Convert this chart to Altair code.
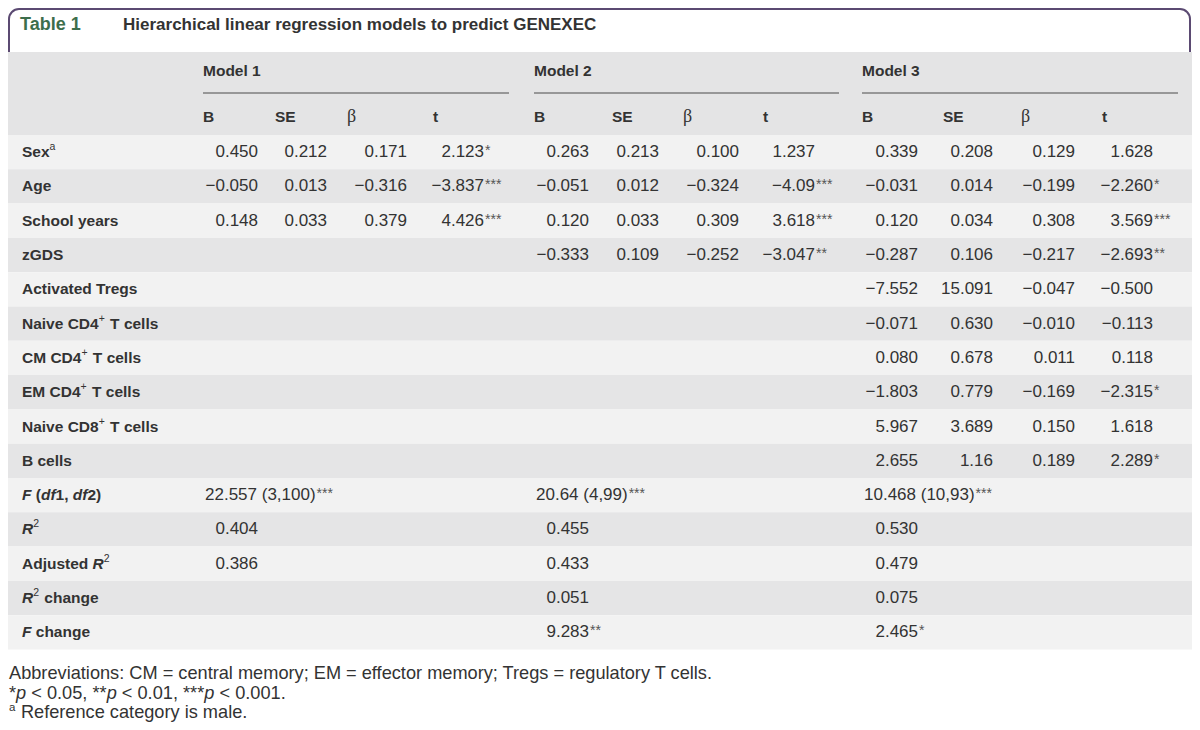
import altair as alt
import pandas as pd

# ------------------------------------------------------------------ data
table_label = "Table 1"
table_title = "Hierarchical linear regression models to predict GENEXEC"
model_names = ["Model 1", "Model 2", "Model 3"]
col_names = ["B", "SE", "β", "t"]

# row labels split into styled parts: b = bold, bi = bold italic, sup = superscript
row_label_parts = [
    [("Sex", "b"), ("a", "sup")],
    [("Age", "b")],
    [("School years", "b")],
    [("zGDS", "b")],
    [("Activated Tregs", "b")],
    [("Naive CD4", "b"), ("+", "sup"), (" T cells", "b")],
    [("CM CD4", "b"), ("+", "sup"), (" T cells", "b")],
    [("EM CD4", "b"), ("+", "sup"), (" T cells", "b")],
    [("Naive CD8", "b"), ("+", "sup"), (" T cells", "b")],
    [("B cells", "b")],
    [("F", "bi"), (" (", "b"), ("df", "bi"), ("1, ", "b"), ("df", "bi"), ("2)", "b")],
    [("R", "bi"), ("2", "sup")],
    [("Adjusted ", "b"), ("R", "bi"), ("2", "sup")],
    [("R", "bi"), ("2", "sup"), (" change", "b")],
    [("F", "bi"), (" change", "b")],
]

m1_B = ["0.450", "−0.050", "0.148"]
m1_SE = ["0.212", "0.013", "0.033"]
m1_beta = ["0.171", "−0.316", "0.379"]
m1_t = ["2.123*", "−3.837***", "4.426***"]

m2_B = ["0.263", "−0.051", "0.120", "−0.333"]
m2_SE = ["0.213", "0.012", "0.033", "0.109"]
m2_beta = ["0.100", "−0.324", "0.309", "−0.252"]
m2_t = ["1.237", "−4.09***", "3.618***", "−3.047**"]

m3_B = ["0.339", "−0.031", "0.120", "−0.287", "−7.552", "−0.071", "0.080", "−1.803", "5.967", "2.655"]
m3_SE = ["0.208", "0.014", "0.034", "0.106", "15.091", "0.630", "0.678", "0.779", "3.689", "1.16"]
m3_beta = ["0.129", "−0.199", "0.308", "−0.217", "−0.047", "−0.010", "0.011", "−0.169", "0.150", "0.189"]
m3_t = ["1.628", "−2.260*", "3.569***", "−2.693**", "−0.500", "−0.113", "0.118", "−2.315*", "1.618", "2.289*"]

f_stat = ["22.557 (3,100)***", "20.64 (4,99)***", "10.468 (10,93)***"]
r_squared = ["0.404", "0.455", "0.530"]
adj_r_squared = ["0.386", "0.433", "0.479"]
r_squared_change = ["", "0.051", "0.075"]
f_change = ["", "9.283**", "2.465*"]

footnote_1 = [("Abbreviations: CM = central memory; EM = effector memory; Tregs = regulatory T cells.", "r")]
footnote_2 = [("*", "r"), ("p", "i"), (" < 0.05, **", "r"), ("p", "i"), (" < 0.01, ***", "r"),
              ("p", "i"), (" < 0.001.", "r")]
footnote_3 = [("a", "sup"), (" Reference category is male.", "r")]

model_cols = [
    [m1_B, m1_SE, m1_beta, m1_t],
    [m2_B, m2_SE, m2_beta, m2_t],
    [m3_B, m3_SE, m3_beta, m3_t],
]
summary_rows = [f_stat, r_squared, adj_r_squared, r_squared_change, f_change]

# ------------------------------------------------------------------ layout
FONT = "Liberation Sans"
SERIF = "Liberation Serif"
INK = "#333333"
PURPLE = "#5b4a72"
GREEN = "#3d6e4c"
BAND_HEAD = "#e4e4e5"
BAND_LIGHT = "#f2f2f2"
BAND_DARK = "#e5e5e6"

W, H = 1184, 714            # visible drawing area (page margin is 8px)
OFF = 8                      # reference pixel of the drawing area's origin

LABEL_SIZE = 15.5
VALUE_SIZE = 17
FOOT_SIZE = 18.2
SUP_SIZE = 10.5

HEAD_TOP, HEAD_BOTTOM = 52, 135
ROW_H = 34.3
MODEL_Y, RULE_Y, COLHEAD_Y = 71, 93, 117
TITLE_Y = 25
FOOT_Y0, FOOT_DY = 674, 19.5
LABEL_X = 22

model_left = [203, 534, 862]
model_right = [509, 839, 1178]
colhead_off = [[0, 72, 144, 230], [0, 78, 149, 229], [0, 81, 159, 240]]
value_right = [[258, 327, 407, 484], [589, 659, 739, 815], [918, 993, 1075, 1153]]

REG = {' ': 278, '*': 389, 'p': 556, '<': 584, '=': 584, '.': 278, ',': 278, ';': 278, ':': 278,
       '(': 333, ')': 333, '−': 584, '+': 584, 'A': 667, 'C': 722, 'E': 667, 'M': 833, 'R': 722,
       'T': 611, 'a': 556, 'b': 556, 'c': 500, 'e': 556, 'f': 278, 'g': 556, 'i': 222, 'l': 222,
       'm': 833, 'n': 556, 'o': 556, 'r': 333, 's': 500, 't': 278, 'u': 556, 'v': 500, 'y': 500}
BOLD = {' ': 278, '(': 333, ')': 333, ',': 278, '+': 584, 'A': 722, 'B': 722, 'C': 722, 'D': 722,
        'E': 667, 'F': 611, 'G': 778, 'M': 833, 'N': 722, 'R': 722, 'S': 667, 'T': 611,
        'a': 556, 'c': 556, 'd': 611, 'e': 556, 'f': 333, 'g': 611, 'h': 611, 'i': 278, 'j': 278,
        'l': 278, 'n': 611, 'o': 611, 'r': 389, 's': 556, 't': 333, 'u': 611, 'v': 556, 'x': 556,
        'y': 556, 'z': 500}


def text_width(s, size, bold=False):
    table = BOLD if bold else REG
    return sum(table.get(ch, 556) for ch in s) * size / 1000.0


def row_center(i):
    return HEAD_BOTTOM + ROW_H * (i + 0.5)


# ------------------------------------------------------------------ tables
bands = [dict(x0=0, x1=1200, y0=HEAD_TOP, y1=HEAD_BOTTOM, fill=BAND_HEAD)]
for i in range(len(row_label_parts)):
    bands.append(dict(x0=0, x1=1200, y0=HEAD_BOTTOM + ROW_H * i, y1=HEAD_BOTTOM + ROW_H * (i + 1),
                      fill=BAND_LIGHT if i % 2 == 0 else BAND_DARK))
bands_df = pd.DataFrame(bands)

rules_df = pd.DataFrame([dict(x0=model_left[m], x1=model_right[m], y=RULE_Y) for m in range(3)])

styled = {"b": [], "bi": [], "sup": [], "r": [], "i": [], "rsup": []}


def lay_parts(parts, x, y, size, base_bold):
    for text, style in parts:
        if style == "sup":
            key = "sup" if base_bold else "rsup"
            styled[key].append(dict(x=x, y=y, text=text))
            x += text_width(text, SUP_SIZE, False) + 1
        else:
            bold = style in ("b", "bi")
            lead = len(text) - len(text.lstrip(" "))
            x += text_width(" " * lead, size, bold)       # svg drops leading blanks
            body = text.lstrip(" ")
            styled[style].append(dict(x=x, y=y, text=body))
            x += text_width(body, size, bold)
    return x


for i, parts in enumerate(row_label_parts):
    lay_parts(parts, LABEL_X, row_center(i), LABEL_SIZE, True)

foot_x = OFF + 1
for k, parts in enumerate([footnote_1, footnote_2, footnote_3]):
    lay_parts(parts, foot_x, FOOT_Y0 + FOOT_DY * k, FOOT_SIZE, False)

values_right, values_left, stars = [], [], []
for m in range(3):
    for c in range(4):
        for i, v in enumerate(model_cols[m][c]):
            num = v.rstrip("*")
            st = v[len(num):]
            xr = value_right[m][c]
            values_right.append(dict(x=xr, y=row_center(i), text=num))
            if st:
                stars.append(dict(x=xr + 1, y=row_center(i), text=st))
    for k, row in enumerate(summary_rows):
        v = row[m]
        if not v:
            continue
        num = v.rstrip("*")
        st = v[len(num):]
        i = 10 + k
        if k == 0:
            xl = model_left[m] + 2
            values_left.append(dict(x=xl, y=row_center(i), text=num))
            xr = xl + text_width(num, VALUE_SIZE)
        else:
            xr = value_right[m][0]
            values_right.append(dict(x=xr, y=row_center(i), text=num))
        if st:
            stars.append(dict(x=xr + 1, y=row_center(i), text=st))

model_heads = pd.DataFrame([dict(x=model_left[m], y=MODEL_Y, text=model_names[m]) for m in range(3)])
col_heads = pd.DataFrame([dict(x=model_left[m] + colhead_off[m][c], y=COLHEAD_Y, text=col_names[c])
                          for m in range(3) for c in range(4) if col_names[c] != "β"])
beta_heads = pd.DataFrame([dict(x=model_left[m] + colhead_off[m][c], y=COLHEAD_Y, text=col_names[c])
                           for m in range(3) for c in range(4) if col_names[c] == "β"])

# ------------------------------------------------------------------ chart
xs = alt.Scale(domain=[OFF, OFF + W], nice=False, zero=False)
ys = alt.Scale(domain=[OFF, OFF + H], nice=False, zero=False, reverse=True)


def X(f):
    return alt.X(f + ":Q", scale=xs, axis=None)


def Y(f):
    return alt.Y(f + ":Q", scale=ys, axis=None)


def texts(rows, align="left", size=VALUE_SIZE, weight="normal", style="normal", font=FONT,
          color=INK, dy=0):
    df = pd.DataFrame(rows) if not isinstance(rows, pd.DataFrame) else rows
    return alt.Chart(df).mark_text(align=align, baseline="middle", fontSize=size, fontWeight=weight,
                                   fontStyle=style, font=font, color=color, dy=dy).encode(
        x=X("x"), y=Y("y"), text="text:N")


border = alt.Chart(pd.DataFrame([dict(x0=OFF + 1, x1=OFF + W - 2, y0=OFF + 1, y1=HEAD_TOP + 20)])).mark_rect(
    cornerRadius=10, fill="white", stroke=PURPLE, strokeWidth=2).encode(
    x=X("x0"), x2="x1", y=Y("y0"), y2="y1")

band_layer = alt.Chart(bands_df).mark_rect().encode(
    x=X("x0"), x2="x1", y=Y("y0"), y2="y1", color=alt.Color("fill:N", scale=None))

rule_layer = alt.Chart(rules_df).mark_rule(color="#4a4a4a", strokeWidth=1).encode(
    x=X("x0"), x2="x1", y=Y("y"))

title_layer = texts([dict(x=20, y=TITLE_Y, text=table_label)], size=18, weight="bold", color=GREEN)
title_text_layer = texts([dict(x=123, y=TITLE_Y, text=table_title)], size=17, weight="bold")

layers = [
    border, band_layer, rule_layer, title_layer, title_text_layer,
    texts(model_heads, size=LABEL_SIZE, weight="bold"),
    texts(col_heads, size=LABEL_SIZE, weight="bold"),
    texts(beta_heads, size=18, font=SERIF),
    texts(styled["b"], size=LABEL_SIZE, weight="bold"),
    texts(styled["bi"], size=LABEL_SIZE, weight="bold", style="italic"),
    texts(styled["sup"], size=SUP_SIZE, dy=-5),
    texts(styled["r"], size=FOOT_SIZE),
    texts(styled["i"], size=FOOT_SIZE, style="italic"),
    texts(styled["rsup"], size=SUP_SIZE + 1, dy=-5),
    texts(values_right, align="right"),
    texts(values_left, align="left"),
    texts(stars, align="left", size=14, color="#555555", dy=-1),
]

chart = alt.layer(*layers).properties(
    width=W, height=H, padding=0, autosize="none"
).configure_view(stroke=None)

chart.save("out.html", embed_options={"renderer": "svg", "actions": False})
